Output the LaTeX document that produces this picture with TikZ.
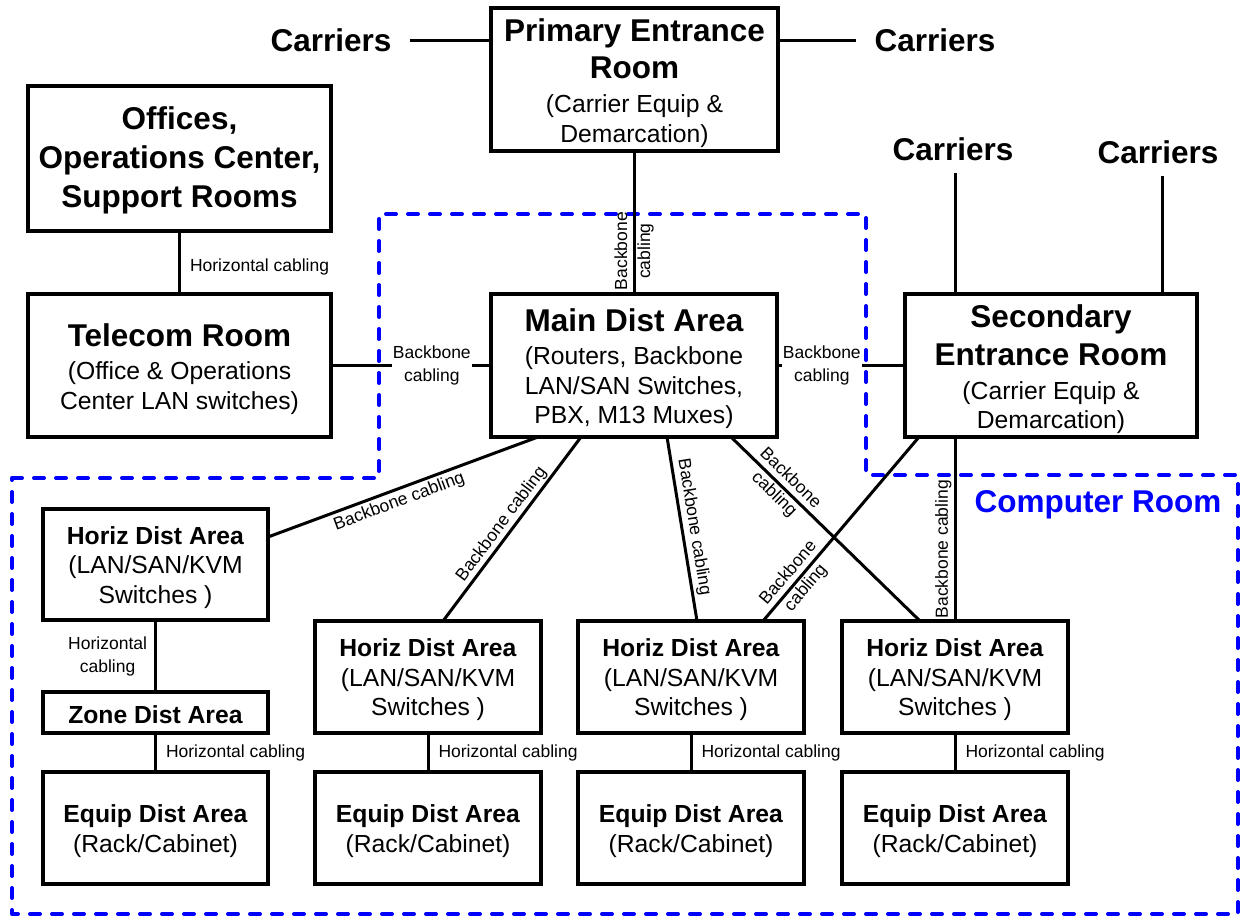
\documentclass[tikz,border=0pt]{standalone}
\usepackage{fontspec}
\setmainfont{Liberation Sans}
\usetikzlibrary{calc}
\definecolor{cr}{RGB}{0,0,255}
\newcommand\ttl[1]{{\bfseries\fontsize{31.5}{38}\selectfont #1}}
\begin{document}
\begin{tikzpicture}[x=1pt,y=-1pt,
  box/.style={draw, line width=3.2pt, fill=white, inner sep=0pt, outer sep=0pt},
  smallbox/.style={box, minimum width=226pt, minimum height=112pt},
  btxt/.style={inner sep=0pt, align=center, yshift=-3.5pt, font=\fontsize{24.7}{29.5}\selectfont},
  stxt/.style={inner sep=0pt, align=center, yshift=-3pt, font=\fontsize{24.7}{29.5}\selectfont},
  wire/.style={line width=3pt},
  lbl/.style={font=\fontsize{17.5}{23}\selectfont, inner sep=2pt, align=center},
  carr/.style={font=\bfseries\fontsize{31.5}{38}\selectfont, inner xsep=18pt},
  zone/.style={draw=cr, line width=4pt, dash pattern=on 10pt off 12pt, line cap=round, line join=round}
]
\useasboundingbox (0,0) rectangle (1244,919);

% computer room outline
\draw[zone] (12,478) -- (379,478) -- (379,214) -- (866,214) -- (866,475) -- (1238,475) -- (1238,914) -- (12,914) -- cycle;

% upper boxes
\node[box, minimum width=287pt, minimum height=143pt] (prim) at (634.5,79.5) {};
\node[btxt] (primt) at (prim) {\ttl{Primary Entrance}\\[8pt]\ttl{Room}\\[4.5pt](Carrier Equip \&\\Demarcation)};
\node[box, minimum width=303pt, minimum height=145pt] (off) at (179.5,158.5) {};
\node[btxt, yshift=2pt, font=\bfseries\fontsize{31.5}{39}\selectfont] (offt) at (off) {Offices,\\Operations Center,\\Support Rooms};
\node[box, minimum width=303pt, minimum height=143pt] (tel) at (179.5,365.5) {};
\node[btxt] (telt) at (tel) {\ttl{Telecom Room}\\[4pt](Office \& Operations\\Center LAN switches)};
\node[box, minimum width=286pt, minimum height=143pt] (main) at (634,365.5) {};
\node[btxt] (maint) at (main) {\ttl{Main Dist Area}\\[3.5pt](Routers, Backbone\\LAN/SAN Switches,\\PBX, M13 Muxes)};
\node[box, minimum width=292pt, minimum height=143pt] (sec) at (1051,365.5) {};
\node[btxt] (sect) at (sec) {\ttl{Secondary}\\[9pt]\ttl{Entrance Room}\\[4pt](Carrier Equip \&\\Demarcation)};

% lower boxes
\node[smallbox, minimum width=225pt, minimum height=111pt] (hda1) at (155.5,564.5) {};
\node[stxt] (hda1t) at (hda1) {\textbf{Horiz Dist Area}\\(LAN/SAN/KVM\\Switches )};
\node[smallbox, minimum width=225pt, minimum height=41pt] (zone1) at (155.5,712.5) {};
\node[stxt, yshift=1pt] (zone1t) at (zone1) {\textbf{Zone Dist Area}};
\node[smallbox, minimum width=225pt] (eda1) at (155.5,828) {};
\node[stxt] (eda1t) at (eda1) {\textbf{Equip Dist Area}\\(Rack/Cabinet)};
\node[smallbox] (hda2) at (428,677) {};
\node[stxt] (hda2t) at (hda2) {\textbf{Horiz Dist Area}\\(LAN/SAN/KVM\\Switches )};
\node[smallbox] (eda2) at (428,828) {};
\node[stxt] (eda2t) at (eda2) {\textbf{Equip Dist Area}\\(Rack/Cabinet)};
\node[smallbox] (hda3) at (691,677) {};
\node[stxt] (hda3t) at (hda3) {\textbf{Horiz Dist Area}\\(LAN/SAN/KVM\\Switches )};
\node[smallbox] (eda3) at (691,828) {};
\node[stxt] (eda3t) at (eda3) {\textbf{Equip Dist Area}\\(Rack/Cabinet)};
\node[smallbox] (hda4) at (955,677) {};
\node[stxt] (hda4t) at (hda4) {\textbf{Horiz Dist Area}\\(LAN/SAN/KVM\\Switches )};
\node[smallbox] (eda4) at (955,828) {};
\node[stxt] (eda4t) at (eda4) {\textbf{Equip Dist Area}\\(Rack/Cabinet)};

% carriers
\node[carr] (c1) at (331,40) {Carriers};
\node[carr] (c2) at (935,40) {Carriers};
\node[carr, inner ysep=12pt] (c3) at (953,149.5) {Carriers};
\node[carr, inner ysep=12pt] (c4) at (1158,152.5) {Carriers};
\draw[wire] (c1.east) -- (c1.east -| prim.west);
\draw[wire] (prim.east |- c2.west) -- (c2.west);
\draw[wire] ([xshift=2pt]c3.south) -- ([xshift=2pt]c3.south |- sec.north);
\draw[wire] ([xshift=4pt]c4.south) -- ([xshift=4pt]c4.south |- sec.north);

% backbone connectors
\draw[wire] (main.north) -- (main.north |- prim.south) node[lbl, pos=0.30, sloped] {Backbone\\cabling};
\draw[wire] (tel.east) -- (main.west) node[lbl, pos=0.63, fill=white, inner sep=1pt] {Backbone\\cabling};
\draw[wire] (main.east) -- (sec.west) node[lbl, pos=0.35, fill=white, inner sep=1pt] {Backbone\\cabling};
\draw[wire] (off.south) -- (tel.north) node[lbl, pos=0.57, right=7pt] {Horizontal cabling};

\draw[wire] ([xshift=47pt]main.south west) -- ([yshift=-28pt]hda1.north east)
  node[lbl, pos=0.53, sloped, below, inner sep=3pt] {Backbone cabling};
\draw[wire] ([xshift=90pt]main.south west) -- ([xshift=128pt]hda2.north west)
  node[lbl, pos=0.51, sloped, above, inner sep=1.5pt] {Backbone cabling};
\draw[wire] ([xshift=176pt]main.south west) -- ([xshift=119pt]hda3.north west)
  node[lbl, pos=0.5, sloped, above, inner sep=2.5pt] {Backbone cabling};
\draw[wire] ([xshift=240pt]main.south west) -- ([xshift=78pt]hda4.north west)
  node[lbl, pos=0.27, sloped] {Backbone\\cabling};
\draw[wire] ([xshift=14pt]sec.south west) -- ([xshift=185pt]hda3.north west)
  node[lbl, pos=0.78, sloped] {Backbone\\cabling};
\draw[wire] (hda4.north) -- (hda4.north |- sec.south)
  node[lbl, pos=0.39, sloped, above, inner sep=2pt] {Backbone cabling};

% horizontal cabling
\draw[wire] (hda1.south) -- (zone1.north) node[lbl, midway, left=5pt] {Horizontal\\cabling};
\draw[wire] (zone1.south) -- (eda1.north) node[lbl, midway, right=7pt] {Horizontal cabling};
\draw[wire] (hda2.south) -- (eda2.north) node[lbl, midway, right=7pt] {Horizontal cabling};
\draw[wire] (hda3.south) -- (eda3.north) node[lbl, midway, right=7pt] {Horizontal cabling};
\draw[wire] (hda4.south) -- (eda4.north) node[lbl, midway, right=7pt] {Horizontal cabling};

\node[font=\bfseries\fontsize{31.5}{38}\selectfont, text=cr] (crl) at (1098,505) {Computer Room};
\end{tikzpicture}
\end{document}
